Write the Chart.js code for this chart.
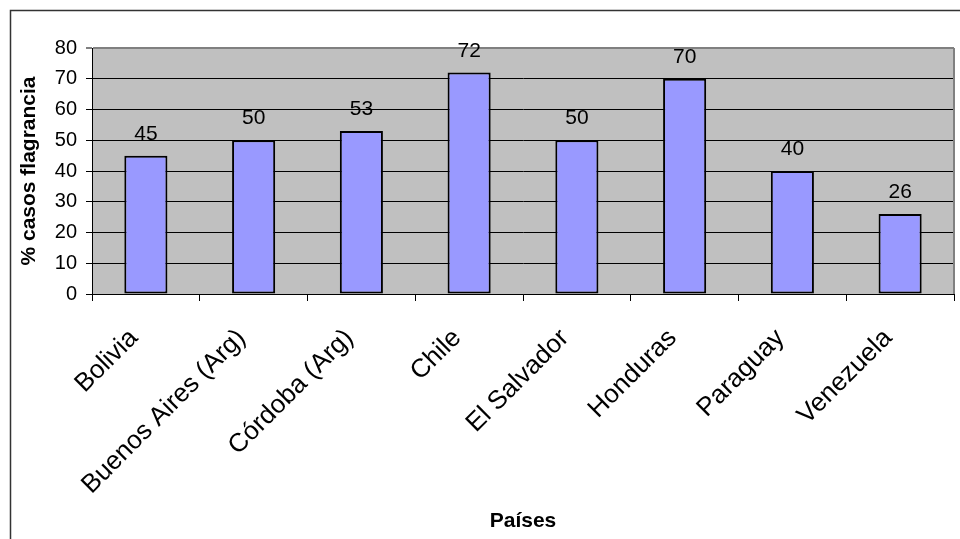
<!DOCTYPE html>
<html>
<head>
<meta charset="utf-8">
<script src="https://cdn.jsdelivr.net/npm/chart.js@4.4.1/dist/chart.umd.min.js"></script>
<style>
  html, body { margin: 0; padding: 0; background: #fff; }
  canvas { display: block; }
</style>
</head>
<body>
<canvas id="grafico" width="960" height="539"></canvas>
<script>
// Datos
const paises = ['Bolivia', 'Buenos Aires (Arg)', 'Córdoba (Arg)', 'Chile', 'El Salvador', 'Honduras', 'Paraguay', 'Venezuela'];
const porcentajes = [45, 50, 53, 72, 50, 70, 40, 26];
const yMin = 0;
const yMax = 80;
const yPaso = 10;

const fuente = 'Arial, "Liberation Sans", sans-serif';

// Fondo gris del área de trazado y marco exterior
const fondo = {
    id: 'fondo',
    beforeDraw(chart) {
        const { ctx, chartArea: a } = chart;
        ctx.save();
        ctx.fillStyle = '#ffffff';
        ctx.fillRect(0, 0, chart.width, chart.height);
        ctx.strokeStyle = '#333333';
        ctx.lineWidth = 1.5;
        ctx.strokeRect(10.5, 10.5, chart.width + 20, chart.height + 20);
        ctx.fillStyle = '#c0c0c0';
        ctx.fillRect(a.left, a.top, a.right - a.left, a.bottom - a.top);
        ctx.restore();
    }
};

// Borde derecho y etiquetas de valores
const etiquetas = {
    id: 'etiquetas',
    afterDatasetsDraw(chart) {
        const { ctx, chartArea: a } = chart;
        ctx.save();
        ctx.strokeStyle = '#808080';
        ctx.lineWidth = 2;
        ctx.beginPath();
        ctx.moveTo(a.right, a.top);
        ctx.lineTo(a.right, a.bottom);
        ctx.stroke();

        ctx.font = '21px ' + fuente;
        ctx.fillStyle = '#000';
        ctx.textAlign = 'center';
        ctx.textBaseline = 'alphabetic';
        const meta = chart.getDatasetMeta(0);
        meta.data.forEach((bar, i) => {
            ctx.fillText(String(porcentajes[i]), bar.x, bar.y - 16);
        });
        ctx.restore();
    }
};

const ctx = document.getElementById('grafico').getContext('2d');

new Chart(ctx, {
    type: 'bar',
    data: {
        labels: paises,
        datasets: [{
            data: porcentajes,
            backgroundColor: '#9999ff',
            borderColor: '#000000',
            borderWidth: 2,
            borderSkipped: false,
            barPercentage: 0.4,
            categoryPercentage: 1.0
        }]
    },
    options: {
        responsive: false,
        animation: false,
        layout: { padding: { left: 10, right: 6, top: 48, bottom: 0 } },
        plugins: {
            legend: { display: false },
            tooltip: { enabled: false }
        },
        scales: {
            x: {
                afterFit: s => { s.height = 245; },
                grid: {
                    drawOnChartArea: false,
                    drawTicks: true,
                    tickLength: 7,
                    color: '#000',
                    offset: true
                },
                border: { color: '#000', width: 1 },
                ticks: {
                    autoSkip: false,
                    maxRotation: 45,
                    minRotation: 45,
                    padding: 22,
                    labelOffset: -12,
                    color: '#000',
                    font: { family: fuente, size: 26 }
                },
                title: {
                    display: true,
                    text: 'Países',
                    color: '#000',
                    padding: { top: 0, bottom: 5 },
                    font: { family: fuente, size: 21, weight: 'bold' }
                }
            },
            y: {
                min: yMin,
                max: yMax,
                afterFit: s => { s.width = 82; },
                grid: {
                    color: c => (c.tick && c.tick.value === yMax) ? '#808080' : '#000',
                    lineWidth: c => (c.tick && c.tick.value === yMax) ? 2 : 1,
                    tickLength: 6
                },
                border: { color: '#000', width: 1 },
                ticks: {
                    stepSize: yPaso,
                    padding: 9,
                    color: '#000',
                    font: { family: fuente, size: 20 }
                },
                title: {
                    display: true,
                    text: '% casos flagrancia',
                    color: '#000',
                    padding: { top: 7, bottom: 0 },
                    font: { family: fuente, size: 21, weight: 'bold' }
                }
            }
        }
    },
    plugins: [fondo, etiquetas]
});
</script>
</body>
</html>
